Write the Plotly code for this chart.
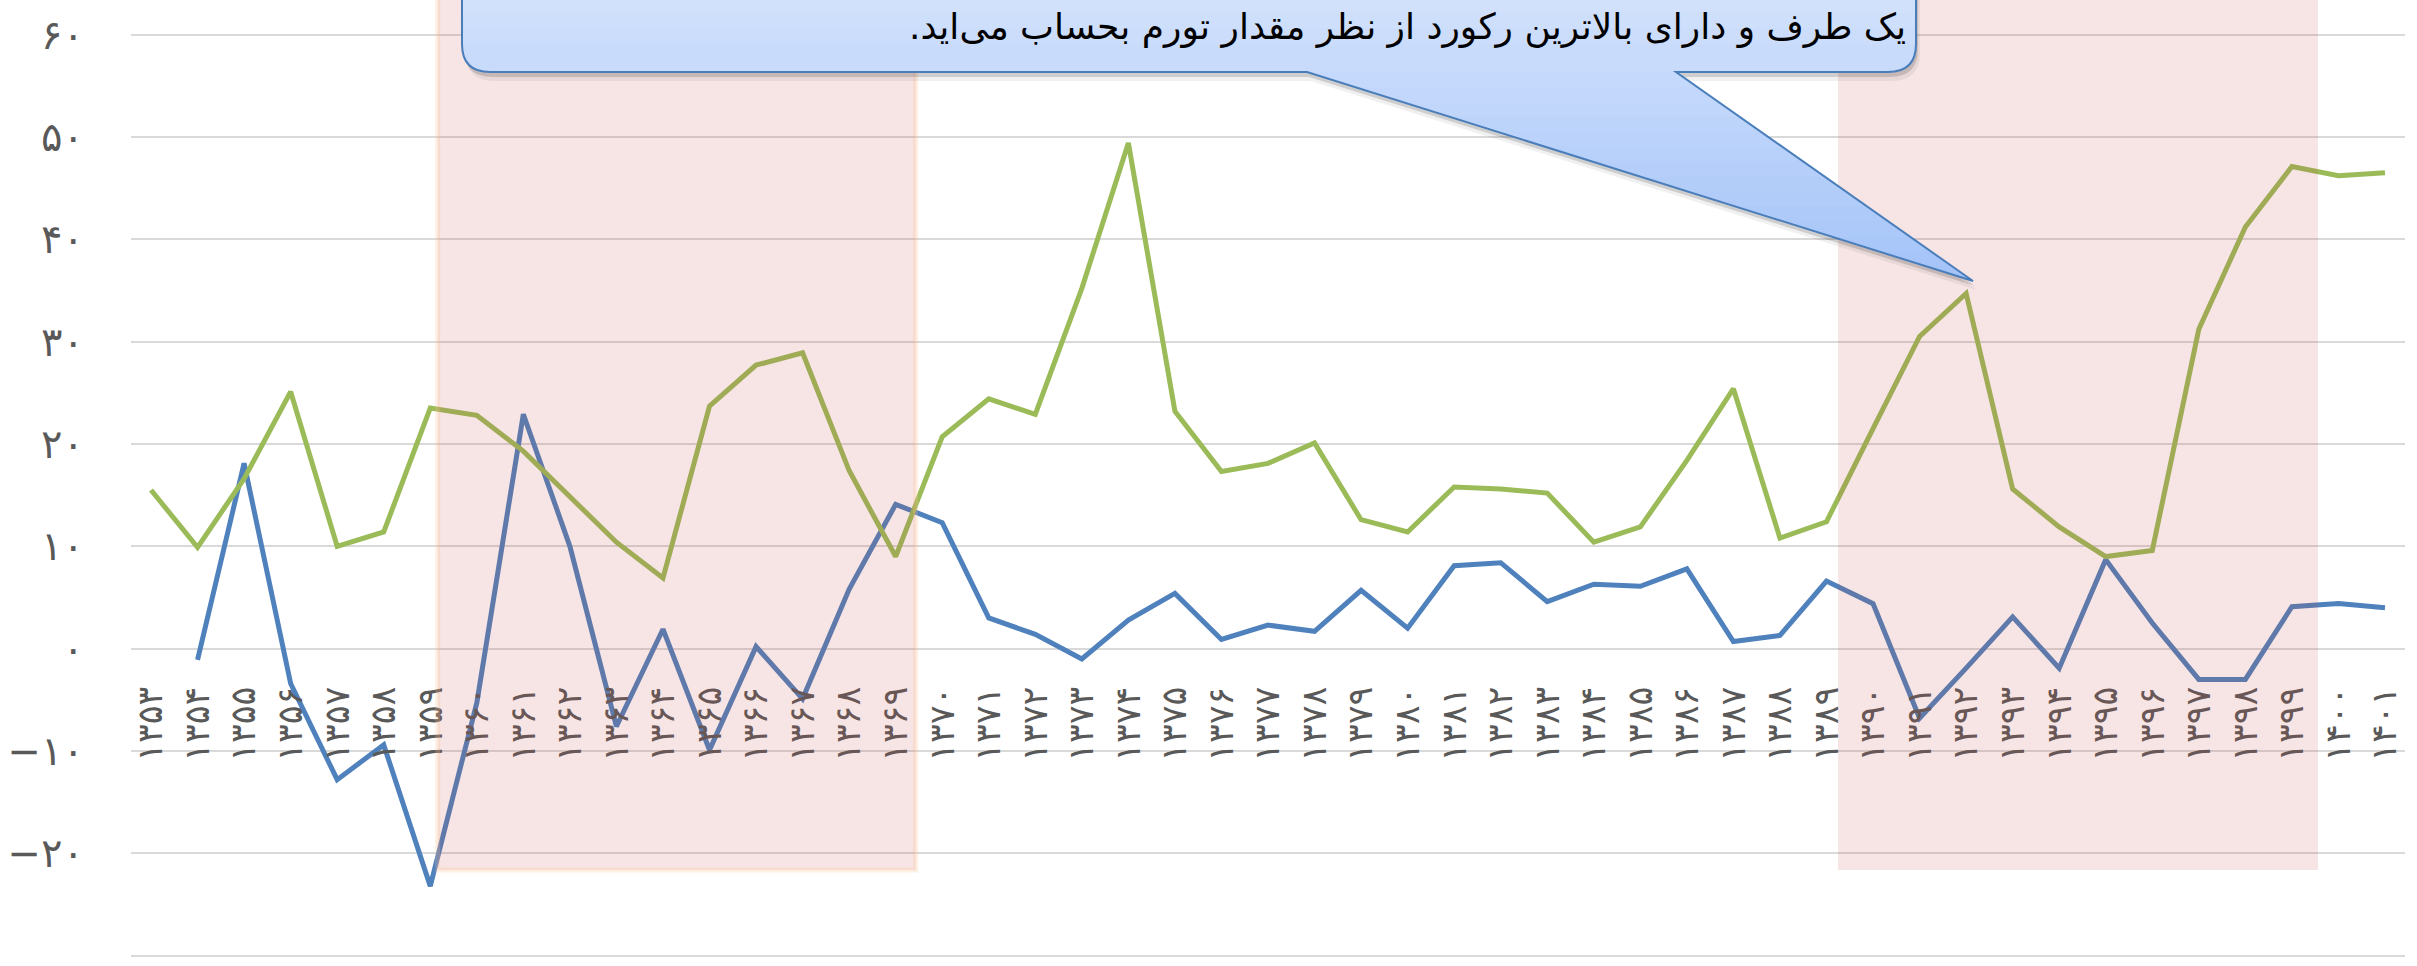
import plotly.graph_objects as go

# ---------------- data ----------------
years = ["۱۳۵۳", "۱۳۵۴", "۱۳۵۵", "۱۳۵۶", "۱۳۵۷", "۱۳۵۸", "۱۳۵۹", "۱۳۶۰", "۱۳۶۱", "۱۳۶۲",
         "۱۳۶۳", "۱۳۶۴", "۱۳۶۵", "۱۳۶۶", "۱۳۶۷", "۱۳۶۸", "۱۳۶۹", "۱۳۷۰", "۱۳۷۱", "۱۳۷۲",
         "۱۳۷۳", "۱۳۷۴", "۱۳۷۵", "۱۳۷۶", "۱۳۷۷", "۱۳۷۸", "۱۳۷۹", "۱۳۸۰", "۱۳۸۱", "۱۳۸۲",
         "۱۳۸۳", "۱۳۸۴", "۱۳۸۵", "۱۳۸۶", "۱۳۸۷", "۱۳۸۸", "۱۳۸۹", "۱۳۹۰", "۱۳۹۱", "۱۳۹۲",
         "۱۳۹۳", "۱۳۹۴", "۱۳۹۵", "۱۳۹۶", "۱۳۹۷", "۱۳۹۸", "۱۳۹۹", "۱۴۰۰", "۱۴۰۱"]

inflation = [15.5, 9.9, 16.6, 25.1, 10.0, 11.4, 23.5, 22.8, 19.3, 14.8,
             10.4, 6.9, 23.7, 27.7, 28.9, 17.4, 9.0, 20.7, 24.4, 22.9,
             35.2, 49.4, 23.2, 17.3, 18.1, 20.1, 12.6, 11.4, 15.8, 15.6,
             15.2, 10.4, 11.9, 18.4, 25.4, 10.8, 12.4, 21.5, 30.5, 34.7,
             15.6, 11.9, 9.0, 9.6, 31.2, 41.2, 47.1, 46.2, 46.5]

growth = [None, -1.1, 18.1, -3.4, -12.8, -9.4, -23.2, -5.3, 22.9, 10.0,
          -7.6, 1.9, -9.9, 0.2, -4.9, 5.8, 14.1, 12.3, 3.0, 1.4,
          -1.0, 2.8, 5.4, 0.9, 2.3, 1.7, 5.7, 2.0, 8.1, 8.4,
          4.6, 6.3, 6.1, 7.8, 0.7, 1.3, 6.6, 4.4, -6.8, -1.9,
          3.1, -1.9, 8.7, 2.5, -3.0, -3.0, 4.1, 4.4, 4.0]

y_tickvals = [-30, -20, -10, 0, 10, 20, 30, 40, 50, 60]
y_ticktext = ["−۳۰", "−۲۰", "−۱۰", "۰", "۱۰", "۲۰", "۳۰", "۴۰", "۵۰", "۶۰"]

# shaded periods (category index span)
periods = [(6.16, 16.43, True), (36.25, 46.56, False)]

callout_text = "\u200fیک طرف و دارای بالاترین رکورد از نظر مقدار تورم بحساب می\u200cاید.\u200f"

# ---------------- layout constants ----------------
W, H = 2417, 966
ML, MR, MT, MB = 131, 12, 0, 4
PW, PH = W - ML - MR, H - MT - MB
YMIN, YMAX = -30.61, 63.37
GREY = "#595959"
FONT = "DejaVu Sans"


def xp(px):
    return (px - ML) / PW


def yp(py):
    return 1 - (py - MT) / PH


fig = go.Figure()
fig.add_trace(go.Scatter(x=years, y=growth, mode="lines",
                         line=dict(color="#4F81BD", width=5), name="رشد"))
fig.add_trace(go.Scatter(x=years, y=inflation, mode="lines",
                         line=dict(color="#9BBB59", width=5), name="تورم"))

shapes = []
for x0, x1, border in periods:
    shapes.append(dict(type="rect", xref="x", yref="y", x0=x0, x1=x1, y0=-21.62, y1=80,
                       fillcolor="rgba(192,80,77,0.15)",
                       line=dict(color="rgba(250,192,144,0.25)" if border else "rgba(0,0,0,0)",
                                 width=5 if border else 0),
                       layer="above"))

# ---- callout geometry (pixels) ----
L, R, T, B, RAD = 462, 1916, -80, 72, 28
BX1, BX2, TX, TY = 1307, 1676, 1973, 281


def outline(dx=0, dy=0):
    def P(x, y):
        return f"{xp(x + dx):.5f},{yp(y + dy):.5f}"
    s = "M" + P(L, T)
    s += " L" + P(L, B - RAD)
    s += " Q" + P(L, B) + " " + P(L + RAD, B)
    s += " L" + P(BX1, B)
    s += " L" + P(TX, TY)
    s += " L" + P(BX2, B)
    s += " L" + P(R - RAD, B)
    s += " Q" + P(R, B) + " " + P(R, B - RAD)
    s += " L" + P(R, T) + " Z"
    return s


c_a = (223, 234, 253)
c_b = (163, 195, 248)


def col(py):
    t = (py - T) / (TY - T)
    t = min(max(t, 0), 1)
    c = [round(c_a[i] + (c_b[i] - c_a[i]) * t) for i in range(3)]
    return f"rgb({c[0]},{c[1]},{c[2]})"


# shadow
shapes.append(dict(type="path", xref="paper", yref="paper", path=outline(4, 9),
                   fillcolor="rgba(0,0,0,0.06)", line=dict(width=0), layer="above"))
shapes.append(dict(type="path", xref="paper", yref="paper", path=outline(2, 5),
                   fillcolor="rgba(0,0,0,0.14)", line=dict(width=0), layer="above"))
# base fill
shapes.append(dict(type="path", xref="paper", yref="paper", path=outline(),
                   fillcolor=col(58), line=dict(width=0), layer="above"))
# rect gradient bands
nb = 8
for i in range(nb):
    a = T + (B - RAD - T) * i / nb
    b = T + (B - RAD - T) * (i + 1) / nb
    shapes.append(dict(type="rect", xref="paper", yref="paper",
                       x0=xp(L), x1=xp(R), y0=yp(b + 0.6), y1=yp(a),
                       fillcolor=col((a + b) / 2), line=dict(width=0), layer="above"))
# pointer gradient bands
npb = 14
for i in range(npb):
    a = B + (TY - B) * i / npb
    b = B + (TY - B) * (i + 1) / npb
    bb = min(b + 0.6, TY)
    ta, tb = (a - B) / (TY - B), (bb - B) / (TY - B)
    xla, xra = BX1 + (TX - BX1) * ta, BX2 + (TX - BX2) * ta
    xlb, xrb = BX1 + (TX - BX1) * tb, BX2 + (TX - BX2) * tb
    a0 = a - 1 if i == 0 else a
    path = (f"M{xp(xla):.5f},{yp(a0):.5f} L{xp(xra):.5f},{yp(a0):.5f} "
            f"L{xp(xrb):.5f},{yp(bb):.5f} L{xp(xlb):.5f},{yp(bb):.5f} Z")
    shapes.append(dict(type="path", xref="paper", yref="paper", path=path,
                       fillcolor=col((a + b) / 2), line=dict(width=0), layer="above"))
# outline
shapes.append(dict(type="path", xref="paper", yref="paper", path=outline(),
                   fillcolor="rgba(0,0,0,0)", line=dict(color="#4A7EBB", width=2), layer="above"))

fig.update_layout(
    width=W, height=H,
    margin=dict(l=ML, r=MR, t=MT, b=MB, autoexpand=False),
    paper_bgcolor="white", plot_bgcolor="white",
    showlegend=False,
    shapes=shapes,
    annotations=[dict(text=callout_text, xref="paper", yref="paper",
                      x=xp(1908), y=yp(27), xanchor="right", yanchor="middle",
                      showarrow=False, font=dict(family=FONT, size=36, color="black"))],
    xaxis=dict(type="category", categoryorder="array", categoryarray=years,
               range=[-0.43, 48.43], anchor="free", position=(0 - YMIN) / (YMAX - YMIN),
               showgrid=False, showline=False, zeroline=False, ticks="", automargin=False,
               tickangle=-90, ticklabelstandoff=30,
               tickfont=dict(family=FONT, size=35, color=GREY)),
    yaxis=dict(range=[YMIN, YMAX], tickmode="array", tickvals=y_tickvals, ticktext=y_ticktext,
               showgrid=True, gridcolor="#D9D9D9", gridwidth=2, zeroline=False, automargin=False,
               showline=False, ticks="", ticklabelstandoff=46,
               tickfont=dict(family=FONT, size=40, color=GREY)),
)

fig.write_html("out.html", config={"displayModeBar": False},
               post_script="document.body.style.margin='0';document.body.style.overflow='hidden';")
